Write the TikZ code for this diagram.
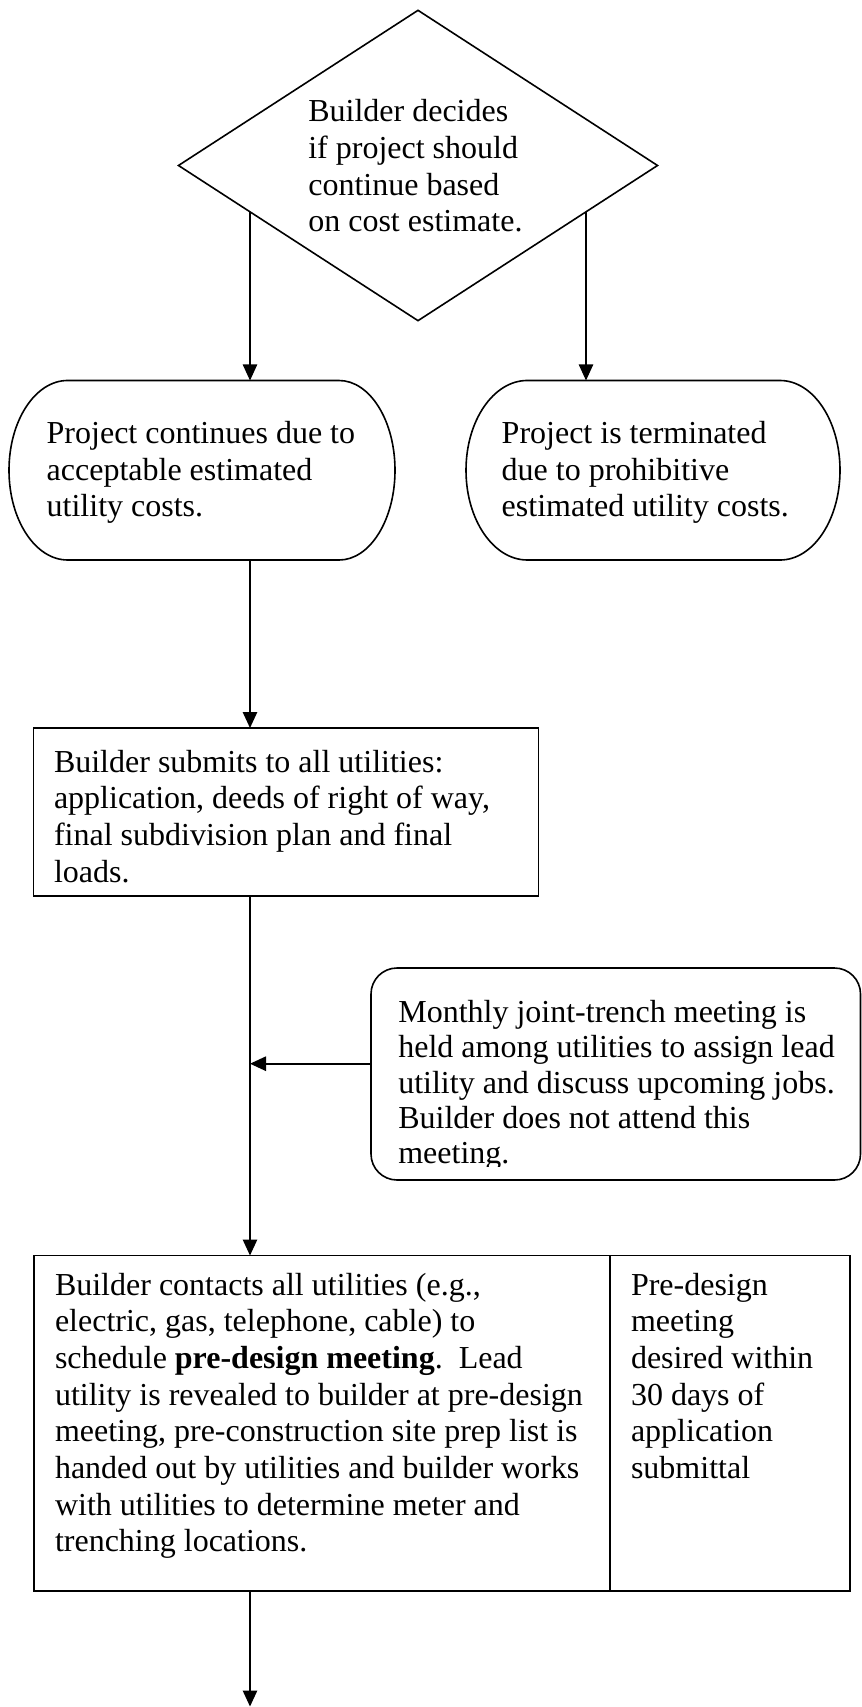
\documentclass[tikz,border=0pt]{standalone}
\usepackage{fontspec}
\setmainfont{Liberation Serif}
\usetikzlibrary{arrows.meta,shapes.geometric,fit,backgrounds}
\begin{document}
\begin{tikzpicture}[x=0.375pt,y=-0.375pt,
  line width=0.6pt,
  arr/.style={-{Triangle[length=6pt,width=5.4pt]}},
  txt/.style={anchor=base west, inner sep=0, outer sep=0, align=left,
    font=\fontsize{12pt}{13.76pt}\selectfont},
  shapebox/.style={inner sep=0, outer sep=0}
]
\useasboundingbox (0,0) rectangle (862,1707);

% spine coordinates
\coordinate (sL) at (250,165.5);
\coordinate (sR) at (586,165.5);
\coordinate (jn) at (250,1063.7);
\coordinate (endc) at (250,1706.5);

% decision diamond (text anchored at its last baseline)
\node[diamond, draw, fill=white, aspect=1.54, inner sep=0,
  minimum width=479.7*0.375pt, minimum height=311*0.375pt] (dec) at (418,165.5) {};
\node[txt] (dectext) at (308.3,231.8)
  {Builder decides\\if project should\\continue based\\on cost estimate.};

% terminators
\node[shapebox, fit={(9,380.5)(395,560)}] (t1) {};
\node[shapebox, fit={(466,380.5)(840,560)}] (t2) {};
\draw ([xshift=22pt]t1.north west) -- ([xshift=-21pt]t1.north east)
  arc[start angle=90, end angle=-90, x radius=21pt, y radius=33.66pt]
  -- ([xshift=22pt]t1.south west)
  arc[start angle=270, end angle=90, x radius=22pt, y radius=33.66pt] -- cycle;
\draw ([xshift=23pt]t2.north west) -- ([xshift=-22.5pt]t2.north east)
  arc[start angle=90, end angle=-90, x radius=22.5pt, y radius=33.66pt]
  -- ([xshift=23pt]t2.south west)
  arc[start angle=270, end angle=90, x radius=23pt, y radius=33.66pt] -- cycle;
\node[txt] (t1text) at (46.7,516.7)
  {Project continues due to\\acceptable estimated\\utility costs.};
\node[txt] (t2text) at (501.7,516.7)
  {Project is terminated\\due to prohibitive\\estimated utility costs.};

% submit box
\node[shapebox, draw, fit={(33.5,728)(538.5,896)}] (box1) {};
\node[txt] (box1text) at (54,882.1)
  {Builder submits to all utilities:\\application, deeds of right of way,\\final subdivision plan and final\\loads.};

% side meeting box
\node[shapebox, draw, rounded corners=9.75pt, fit={(371,968)(860.5,1180)}] (side) {};
\begin{scope}
  \clip (371,968) rectangle (862,1166.5);
  \node[txt, font=\fontsize{12pt}{13.2pt}\selectfont] (sidetext) at (398.3,1163.5)
    {Monthly joint-trench meeting is\\held among utilities to assign lead\\utility and discuss upcoming jobs.\\Builder does not attend this\\meeting.};
\end{scope}

% big box (two cells)
\node[shapebox, draw, fit={(34,1255.5)(610,1591)}] (bigL) {};
\node[shapebox, draw, fit={(610,1255.5)(850,1591)}] (bigR) {};
\node[txt] (bigLtext) at (55,1551.9)
  {Builder contacts all utilities (e.g.,\\electric, gas, telephone, cable) to\\schedule \textbf{pre-design meeting}.\ \ Lead\\utility is revealed to builder at pre-design\\meeting, pre-construction site prep list is\\handed out by utilities and builder works\\with utilities to determine meter and\\trenching locations.};
\node[txt] (bigRtext) at (631,1478.5)
  {Pre-design\\meeting\\desired within\\30 days of\\application\\submittal};

% connectors
\begin{scope}[on background layer]
  \draw[arr] (sL) -- (sL |- t1.north);
  \draw[arr] (sR) -- (sR |- t2.north);
\end{scope}
\draw[arr] (t1.south -| sL) -- (box1.north -| sL);
\draw (box1.south -| sL) -- (jn);
\draw[arr] (jn) -- (bigL.north -| sL);
\draw[arr] (side.west |- jn) -- (jn);
\draw[arr] (bigL.south -| sL) -- (endc);
\end{tikzpicture}
\end{document}
